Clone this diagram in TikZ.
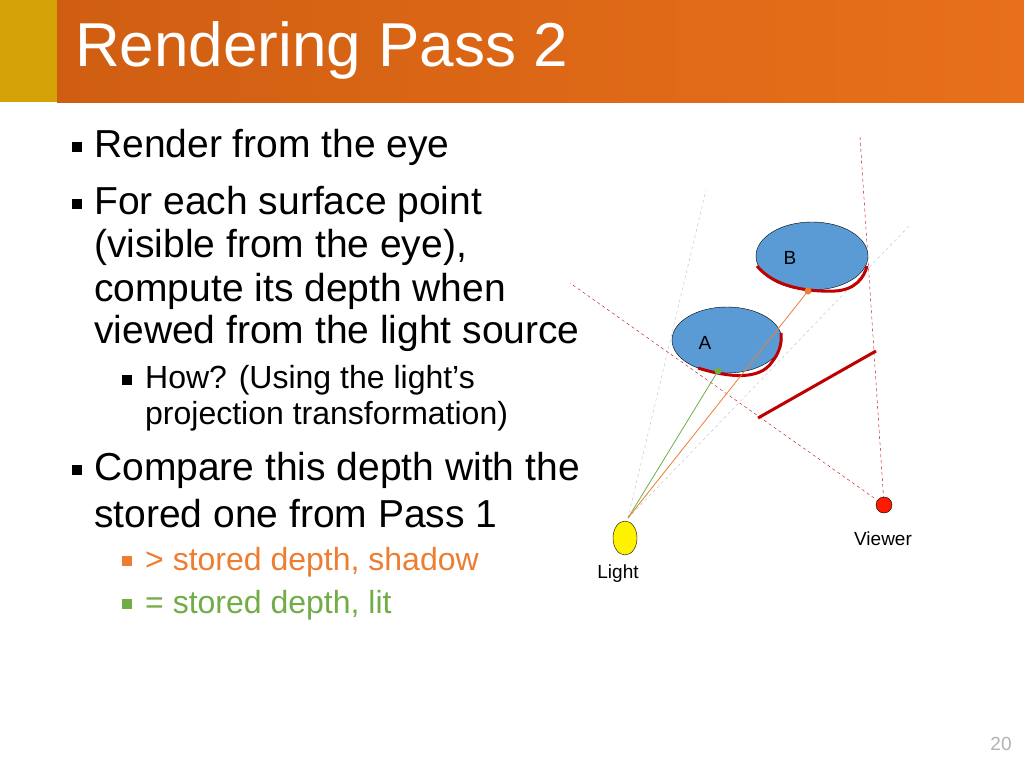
\documentclass[tikz,border=0pt]{standalone}
\usepackage{fontspec}
\setmainfont{Liberation Sans}
\definecolor{hdrorange}{HTML}{E8701A}
\definecolor{hdrdark}{HTML}{D05E12}
\definecolor{hdrgold}{HTML}{D4A106}
\definecolor{objblue}{HTML}{5B9BD5}
\definecolor{shadowred}{HTML}{C00000}
\definecolor{rayorange}{HTML}{ED7D31}
\definecolor{raygreen}{HTML}{70AD47}
\usetikzlibrary{shapes.geometric}
\tikzstyle{bullet} = [anchor=west, font=\fontsize{39}{40}\selectfont, inner sep=0]
\tikzstyle{subbullet} = [anchor=west, font=\fontsize{32}{34}\selectfont, inner sep=0]
\tikzstyle{tag} = [font=\fontsize{19}{20}\selectfont]
\tikzstyle{obj} = [ellipse, draw=black, fill=objblue, thin]
\tikzstyle{shadowline} = [shadowred, line width=3pt]
\tikzstyle{frustum} = [shadowred, dashed, thin]
\tikzstyle{lightcone} = [gray!50, dashed, thin]
\newcommand{\sq}[2]{\fill[#2] (#1) ++(-5,-5) rectangle ++(10,10);}

\begin{document}
\begin{tikzpicture}[x=1pt,y=-1pt]
\useasboundingbox (0,0) rectangle (1024,768);

%Header
\shade[left color=hdrdark, right color=hdrorange] (57,0) rectangle (1024,102);
\fill[hdrgold] (0,0) rectangle (57,102);
\node (title) [anchor=west, inner sep=0, text=white, font=\fontsize{62}{64}\selectfont] at (75,50) {Rendering Pass 2};

%Bullets
\node (b1) [bullet] at (94,147) {Render from the eye};
\node (b2) [bullet] at (94,204) {For each surface point};
\node (b2a) [bullet] at (94,247) {(visible from the eye),};
\node (b2b) [bullet] at (94,291) {compute its depth when};
\node (b2c) [bullet] at (94,333) {viewed from the light source};
\node (s1) [subbullet] at (145,380) {How? (Using the light’s};
\node (s1a) [subbullet] at (145,416) {projection transformation)};
\node (b3) [bullet] at (94,470) {Compare this depth with the};
\node (b3a) [bullet] at (94,514) {stored one from Pass 1};
\node (s2) [subbullet, text=rayorange] at (145,562) {> stored depth, shadow};
\node (s3) [subbullet, text=raygreen] at (145,605) {= stored depth, lit};
\sq{77,147}{black}
\sq{77,204}{black}
\sq{77,470}{black}
\sq{127,380}{black}
\sq{127,561}{rayorange}
\sq{127,604}{raygreen}

%Scene
\coordinate (src) at (628,518);
\coordinate (eye) at (884,505);
\draw[lightcone] (src) -- (706,190);
\draw[lightcone] (src) -- (910,225);
\draw[frustum] (eye) -- (570,283);
\draw[frustum] (eye) -- (860,137);

\node (objA) [obj, minimum width=110, minimum height=66] at (727,340) {};
\node (objB) [obj, minimum width=112, minimum height=68] at (812,256) {};
\node [tag] at (705,343) {A};
\node [tag] at (790,258) {B};

\draw[shadowline] (698,368) .. controls (730,378) and (760,380) .. (772,362) .. controls (780,352) and (782,342) .. (781,333);
\draw[shadowline] (757,266) .. controls (775,288) and (810,292) .. (835,291) .. controls (855,290) and (864,278) .. (867,266);
\draw[shadowline] (758,418) -- (876,351);

\coordinate (hitA) at (718,371);
\coordinate (hitB) at (808,291);
\draw[raygreen, thick] (src) -- (hitA);
\draw[rayorange, thick] (src) -- (hitB);
\fill[raygreen] (hitA) circle (3.5);
\fill[rayorange] (hitB) circle (3.5);

\node (light) [ellipse, draw=black, fill=yellow, minimum width=24, minimum height=34, inner sep=0] at (625,538) {};
\node (viewer) [circle, draw=black, fill=red!80!orange, minimum size=16, inner sep=0] at (884,505) {};
\node [tag] at (618,574) {Light};
\node [tag] at (883,539) {Viewer};

\node (page) [tag, text=gray!60] at (1001,744) {20};
\end{tikzpicture}
\end{document}
